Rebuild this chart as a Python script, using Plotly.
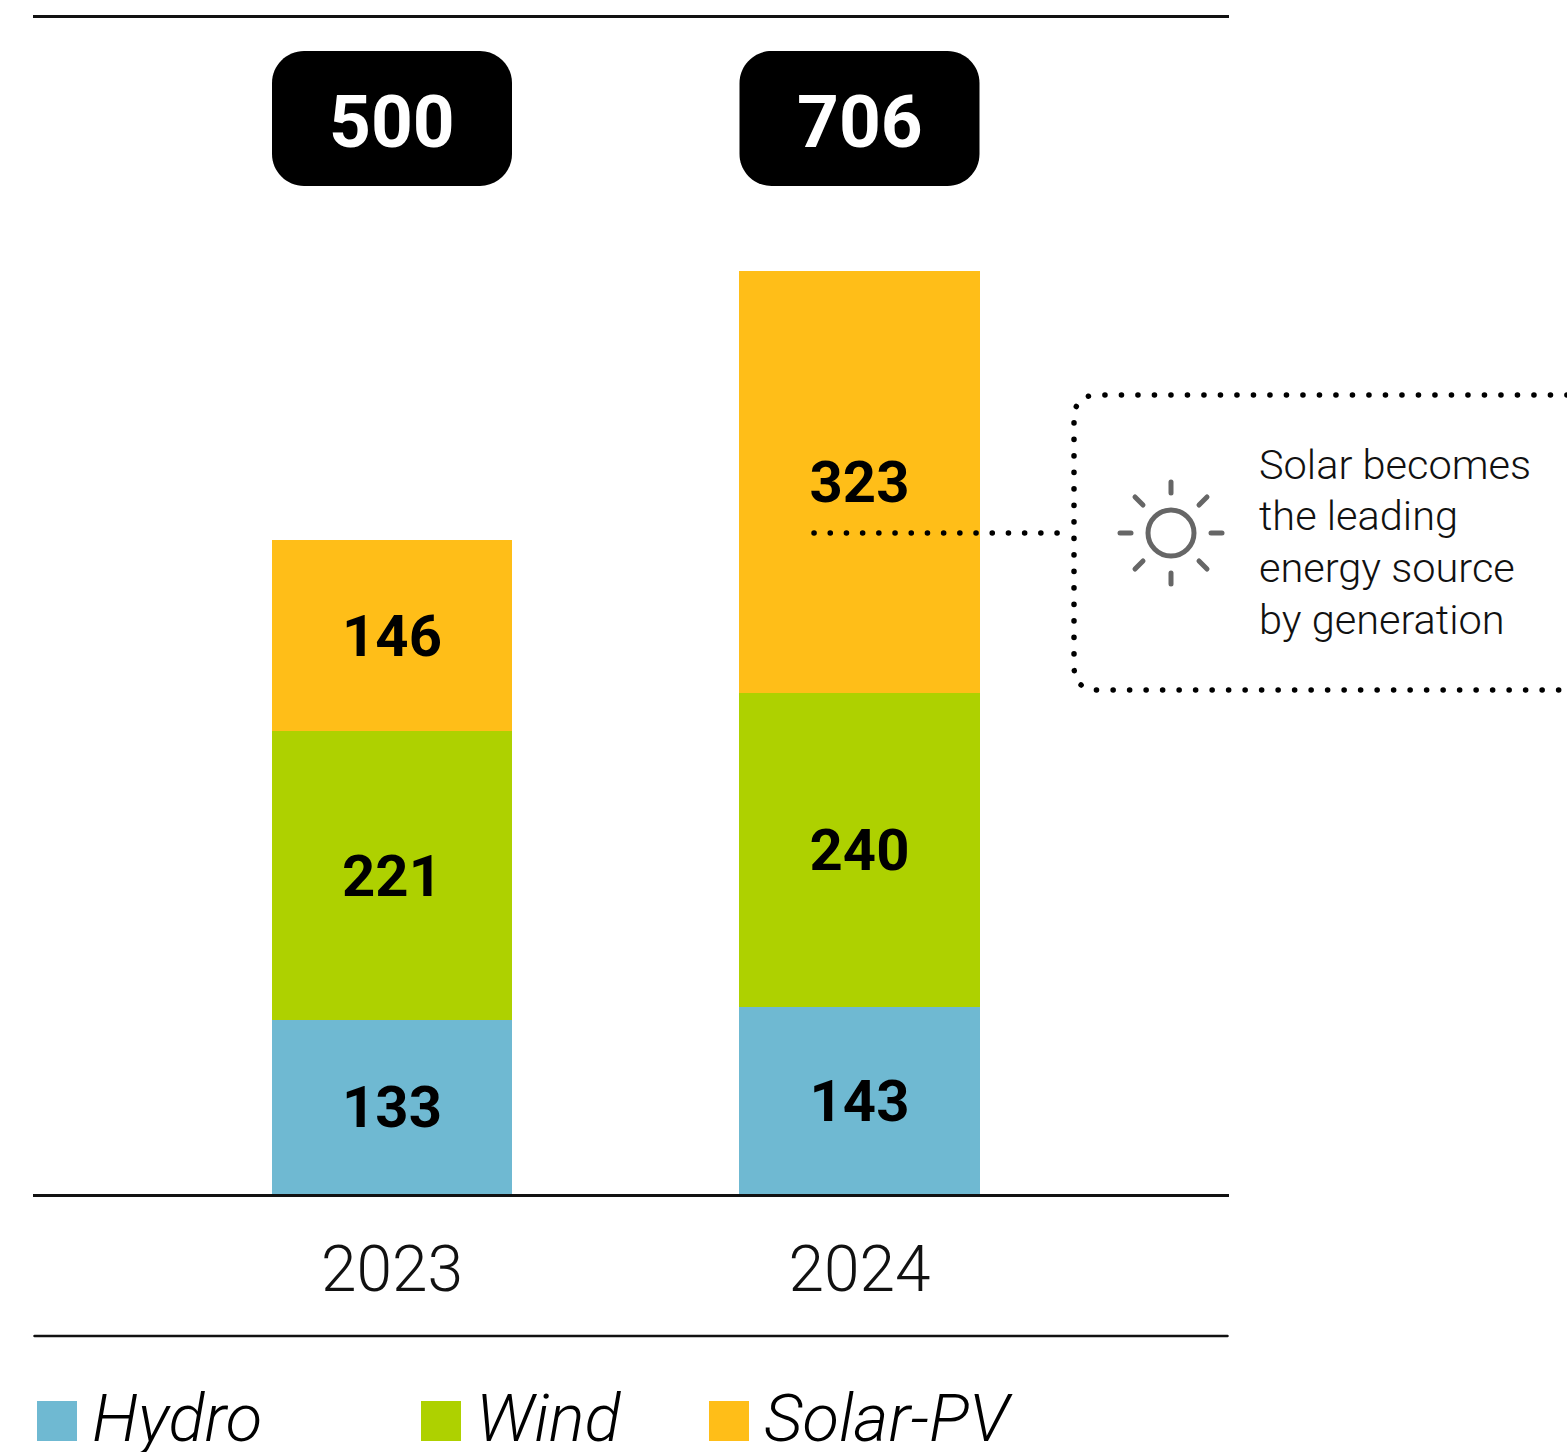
import plotly.graph_objects as go

years = ["2023", "2024"]
hydro = [133, 143]
wind = [221, 240]
solar = [146, 323]
totals = [500, 706]
series_names = ["Hydro", "Wind", "Solar-PV"]
series_colors = ["#6fb9d2", "#aed100", "#ffbe18"]
note_lines = ["Solar becomes", "the leading", "energy source", "by generation"]

W, H = 1567, 1452
FONT = "Roboto"
px = lambda x: x / W
py = lambda y: 1 - y / H

fig = go.Figure()
for name, vals, col in zip(series_names, [hydro, wind, solar], series_colors):
    fig.add_bar(
        x=years, y=vals, name=name, marker=dict(color=col, line=dict(width=0)),
        width=0.514, text=[str(v) for v in vals], textposition="inside",
        insidetextanchor="middle", textangle=0, constraintext="none",
        textfont=dict(family=FONT, size=58, color="black", weight=700),
        showlegend=False, hoverinfo="skip",
    )

shapes = []
annots = []


def rrect(x0, y0, x1, y1, r):
    k = 0.45 * r
    return (f"M {px(x0+r)} {py(y0)} L {px(x1-r)} {py(y0)} "
            f"C {px(x1-k)} {py(y0)} {px(x1)} {py(y0+k)} {px(x1)} {py(y0+r)} L {px(x1)} {py(y1-r)} "
            f"C {px(x1)} {py(y1-k)} {px(x1-k)} {py(y1)} {px(x1-r)} {py(y1)} L {px(x0+r)} {py(y1)} "
            f"C {px(x0+k)} {py(y1)} {px(x0)} {py(y1-k)} {px(x0)} {py(y1-r)} L {px(x0)} {py(y0+r)} "
            f"C {px(x0)} {py(y0+k)} {px(x0+k)} {py(y0)} {px(x0+r)} {py(y0)} Z")


# total badges
for i, ((x0, x1), t) in enumerate(zip([(272, 512), (739.5, 979.5)], totals)):
    shapes.append(dict(type="path", path=rrect(x0, 51, x1, 186, 32), xref="paper", yref="paper",
                       fillcolor="black", line=dict(width=0)))
    annots.append(dict(x=i, xref="x", y=py(122), yref="paper", text=str(t), showarrow=False,
                       font=dict(family=FONT, size=73, color="white", weight=700),
                       xanchor="center", yanchor="middle"))

# rule under the year labels
shapes.append(dict(type="line", xref="paper", yref="paper", x0=px(34.5), x1=px(1227.5), y0=py(1336), y1=py(1336),
                   line=dict(color="#111", width=2.5)))

# callout
DOT = dict(color="black", width=5.5, dash="3px,13.5px")
L, T, B, R = 1074, 395, 690, 1600
r = 24
box = (f"M {px(R)} {py(T)} L {px(L+r)} {py(T)} Q {px(L)} {py(T)} {px(L)} {py(T+r)} "
       f"L {px(L)} {py(B-r)} Q {px(L)} {py(B)} {px(L+r)} {py(B)} L {px(R)} {py(B)}")
shapes.append(dict(type="path", path=box, xref="paper", yref="paper", line=DOT))
shapes.append(dict(type="line", xref="paper", yref="paper", x0=px(814), x1=px(1060), y0=py(533), y1=py(533),
                   line=dict(color="black", width=5.5, dash="3px,13.2px")))

# sun icon
GREY = "#666666"
cx, cy = 1171, 533
shapes.append(dict(type="circle", xref="paper", yref="paper", x0=px(cx-23), x1=px(cx+23), y0=py(cy+23), y1=py(cy-23),
                   line=dict(color=GREY, width=5)))
for a, b, c, d in [(0, -51, 0, -40), (0, 40, 0, 51), (-51, 0, -40, 0), (40, 0, 51, 0),
                   (-36, -36, -28, -28), (28, 28, 36, 36), (-36, 36, -28, 28), (28, -28, 36, -36)]:
    shapes.append(dict(type="line", xref="paper", yref="paper", x0=px(cx+a), y0=py(cy+b), x1=px(cx+c), y1=py(cy+d),
                       line=dict(color=GREY, width=5)))

for line, y in zip(note_lines, [464, 516, 567.5, 619]):
    annots.append(dict(x=px(1256.5), y=py(y), xref="paper", yref="paper", text=line, showarrow=False,
                       xanchor="left", yanchor="middle",
                       font=dict(family=FONT, size=41.5, color="#111", weight=300)))

# legend
for name, col, x in zip(series_names, series_colors, [37, 421, 709]):
    shapes.append(dict(type="rect", xref="paper", yref="paper", x0=px(x), x1=px(x+40), y0=py(1441), y1=py(1401),
                       fillcolor=col, line=dict(width=0)))
    annots.append(dict(x=px(x+53), y=py(1418), xref="paper", yref="paper", text=name, showarrow=False,
                       xanchor="left", yanchor="middle",
                       font=dict(family=FONT, size=67, color="black", weight=300, style="italic")))

step = 467.5
fig.update_layout(
    width=W, height=H, margin=dict(l=0, r=0, t=0, b=0, autoexpand=False),
    paper_bgcolor="white", plot_bgcolor="white", barmode="stack",
    shapes=shapes, annotations=annots, hovermode=False,
    xaxis=dict(
        type="category", categoryorder="array", categoryarray=years,
        domain=[px(33), px(1229)], range=[(33-392)/step, (1229-392)/step],
        showline=True, linecolor="#111", linewidth=2.5, mirror=True, showgrid=False, zeroline=False,
        ticks="outside", ticklen=17, tickcolor="rgba(0,0,0,0)", tickwidth=1,
        tickfont=dict(family=FONT, size=64, color="#111", weight=300),
    ),
    yaxis=dict(domain=[py(1194), py(17.5)], range=[0, (1194-17.5)/1.3074], visible=False, showgrid=False, zeroline=False),
)

post = """
document.body.style.margin='0';
document.querySelectorAll('.shapelayer path').forEach(function(p){
  var d=p.style.strokeDasharray;
  if(d && d!=='none'){
    var period=d.split(',').reduce(function(s,v){return s+parseFloat(v);},0);
    p.style.strokeDasharray='0.1px,'+(period-0.1)+'px';
  }
  p.style.strokeLinecap='round';
});
"""
fig.write_html("out.html", post_script=post, config=dict(displayModeBar=False))
